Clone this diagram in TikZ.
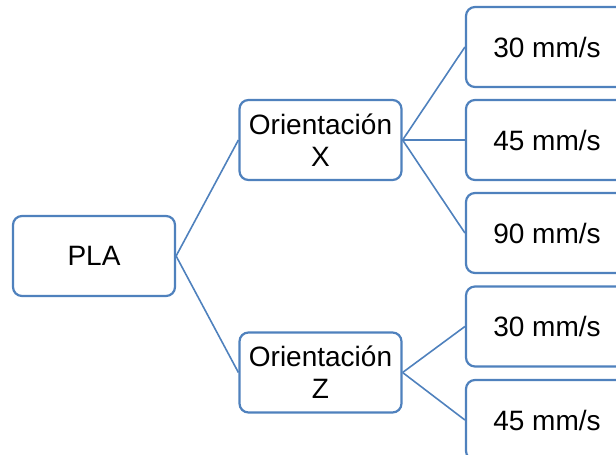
\documentclass[tikz,border=0pt]{standalone}
\usepackage{fontspec}
\setmainfont{Liberation Sans}
\definecolor{boxblue}{RGB}{79,129,189}
\tikzset{
  box/.style={shape=rectangle,draw=boxblue,line width=2.2pt,rounded corners=9pt,fill=white,
    minimum width=162pt,minimum height=80pt,inner sep=0pt,align=center,
    font=\fontsize{28}{32}\selectfont},
  link/.style={draw=boxblue,line width=1.6pt}
}
\begin{document}
\begin{tikzpicture}[x=1pt,y=-1pt]
            \useasboundingbox (0,0) rectangle (616,455);

            \node[box] (PLA) at (94,256) {PLA};
            \node[box] (OX) at (320.5,140) {Orientación\\X};
            \node[box] (OZ) at (320.5,372.5) {Orientación\\Z};

            \node[box] (X30) at (547,47) {30 mm/s};
            \node[box] (X45) at (547,140) {45 mm/s};
            \node[box] (X90) at (547,233) {90 mm/s};
            \node[box] (Z30) at (547,326.5) {30 mm/s};
            \node[box] (Z45) at (547,420) {45 mm/s};

            \path[link] (PLA.east) -- (OX.west);
            \path[link] (PLA.east) -- (OZ.west);
            \path[link] (OX.east) -- (X30.west);
            \path[link] (OX.east) -- (X45.west);
            \path[link] (OX.east) -- (X90.west);
            \path[link] (OZ.east) -- (Z30.west);
            \path[link] (OZ.east) -- (Z45.west);
        \end{tikzpicture}
\end{document}
